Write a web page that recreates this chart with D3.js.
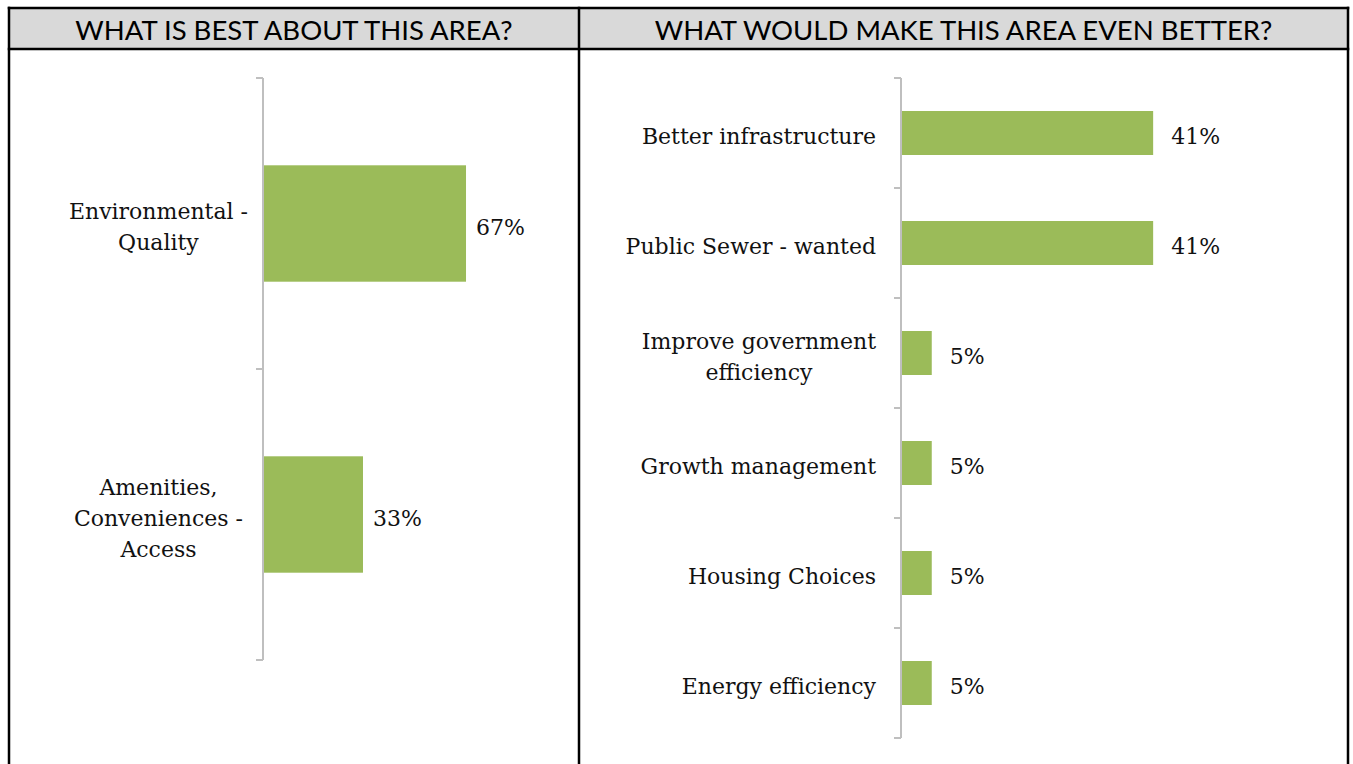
<!DOCTYPE html>
<head>
  <meta charset="utf-8">
  <script src="https://d3js.org/d3.v7.min.js"></script>
  <style>
    body { margin: 0; background: #fff; }
    svg { width: 1353px; height: 764px; display: block; }
    .head { font-family: Lato, "Open Sans", sans-serif; font-size: 27.5px; fill: #000; }
    .cat, .val { font-family: "DejaVu Serif", serif; font-size: 22px; fill: #111; }
  </style>
</head>

<body>
  <svg></svg>
  <script>
    // panel titles
    var titles = ['WHAT IS BEST ABOUT THIS AREA?', 'WHAT WOULD MAKE THIS AREA EVEN BETTER?'];

    // left chart
    var bestCats = ['Environmental - Quality', 'Amenities, Conveniences - Access'];
    var bestVals = [0.67, 0.33];

    // right chart
    var betterCats = ['Better infrastructure', 'Public Sewer - wanted', 'Improve government efficiency',
      'Growth management', 'Housing Choices', 'Energy efficiency'];
    var betterVals = [0.41, 0.41, 0.05, 0.05, 0.05, 0.05];

    var svg = d3.select('svg');
    var green = '#9bbb59';

    // table frame
    var tLeft = 9, tMid = 579, tRight = 1348, tTop = 8, headBottom = 49;
    svg.append('rect')
      .attr('x', tLeft).attr('y', tTop)
      .attr('width', tRight - tLeft).attr('height', headBottom - tTop)
      .attr('fill', '#d9d9d9');
    var frame = [
      [tLeft, tTop, tRight, tTop],
      [tLeft, headBottom, tRight, headBottom],
      [tLeft, tTop, tLeft, 764],
      [tMid, tTop, tMid, 764],
      [tRight, tTop, tRight, 764]
    ];
    svg.selectAll('line.frame')
      .data(frame).enter().append('line')
      .attr('class', 'frame')
      .attr('x1', function(d) { return d[0]; })
      .attr('y1', function(d) { return d[1]; })
      .attr('x2', function(d) { return d[2]; })
      .attr('y2', function(d) { return d[3]; })
      .attr('stroke', '#000')
      .attr('stroke-width', 2.5)
      .attr('stroke-linecap', 'square');

    svg.selectAll('text.head')
      .data(titles).enter().append('text')
      .attr('class', 'head')
      .attr('x', function(d, i) { return i == 0 ? (tLeft + tMid) / 2 : (tMid + tRight) / 2; })
      .attr('y', (tTop + headBottom) / 2 + 1)
      .attr('text-anchor', 'middle')
      .attr('dominant-baseline', 'central')
      .text(function(d) { return d; });

    // measure helper
    var probe = svg.append('text').attr('class', 'cat').attr('opacity', 0);
    function measure(s) {
      probe.text(s);
      return probe.node().getComputedTextLength();
    }
    function wrap(s, maxW) {
      var words = s.split(' '), lines = [], cur = '';
      words.forEach(function(w) {
        var next = cur ? cur + ' ' + w : w;
        if (cur && measure(next) > maxW) {
          lines.push(cur);
          cur = w;
        } else {
          cur = next;
        }
      });
      lines.push(cur);
      return lines;
    }

    function barChart(cats, vals, o) {
      var g = svg.append('g');
      var data = cats.map(function(c, i) { return {cat: c, val: vals[i]}; });

      var y = d3.scaleBand()
        .domain(cats)
        .range([o.y0, o.y1])
        .paddingInner(0.6)
        .paddingOuter(0.3);
      var x = d3.scaleLinear()
        .domain([0, 1])
        .range([o.ax, o.ax + o.w]);

      // axis line + ticks between categories
      var step = y.step();
      var ticks = cats.map(function(c) { return y(c) - step * 0.3; });
      ticks.push(o.y1);
      g.append('line')
        .attr('x1', o.ax).attr('x2', o.ax)
        .attr('y1', o.y0).attr('y2', o.y1)
        .attr('stroke', '#bfbfbf').attr('stroke-width', 2);
      g.selectAll('line.tick')
        .data(ticks).enter().append('line')
        .attr('class', 'tick')
        .attr('x1', o.ax - 7).attr('x2', o.ax)
        .attr('y1', function(d) { return d; })
        .attr('y2', function(d) { return d; })
        .attr('stroke', '#bfbfbf').attr('stroke-width', 2);

      g.selectAll('rect.bar')
        .data(data).enter().append('rect')
        .attr('class', 'bar')
        .attr('x', x(0) + 1)
        .attr('y', function(d) { return y(d.cat); })
        .attr('width', function(d) { return x(d.val) - x(0) - 1; })
        .attr('height', y.bandwidth())
        .attr('fill', green);

      g.selectAll('text.val')
        .data(data).enter().append('text')
        .attr('class', 'val')
        .attr('x', function(d) { return x(d.val) + o.valGap; })
        .attr('y', function(d) { return y(d.cat) + y.bandwidth() / 2 + 11; })
        .text(function(d) { return Math.round(d.val * 100) + '%'; });

      // category labels: single line right aligned, wrapped ones centered
      var wrapped = data.map(function(d) { return wrap(d.cat, o.wrapW); });
      var multiW = 0;
      wrapped.forEach(function(lines) {
        if (lines.length > 1) lines.forEach(function(l) { multiW = Math.max(multiW, measure(l)); });
      });
      var edge = o.ax - o.labelGap;
      data.forEach(function(d, i) {
        var lines = wrapped[i];
        var cy = y(d.cat) + y.bandwidth() / 2 + 11;
        var multi = lines.length > 1;
        g.selectAll(null)
          .data(lines).enter().append('text')
          .attr('class', 'cat')
          .attr('text-anchor', multi ? 'middle' : 'end')
          .attr('x', multi ? edge - multiW / 2 : edge)
          .attr('y', function(l, j) { return cy + (j - (lines.length - 1) / 2) * 31; })
          .text(function(l) { return l; });
      });
    }

    barChart(bestCats, bestVals, {ax: 263, y0: 78, y1: 660, w: 303, valGap: 10, labelGap: 15, wrapW: 245});
    barChart(betterCats, betterVals, {ax: 901, y0: 78, y1: 738, w: 615, valGap: 18, labelGap: 25, wrapW: 300});
    probe.remove();
  </script>
</body>
